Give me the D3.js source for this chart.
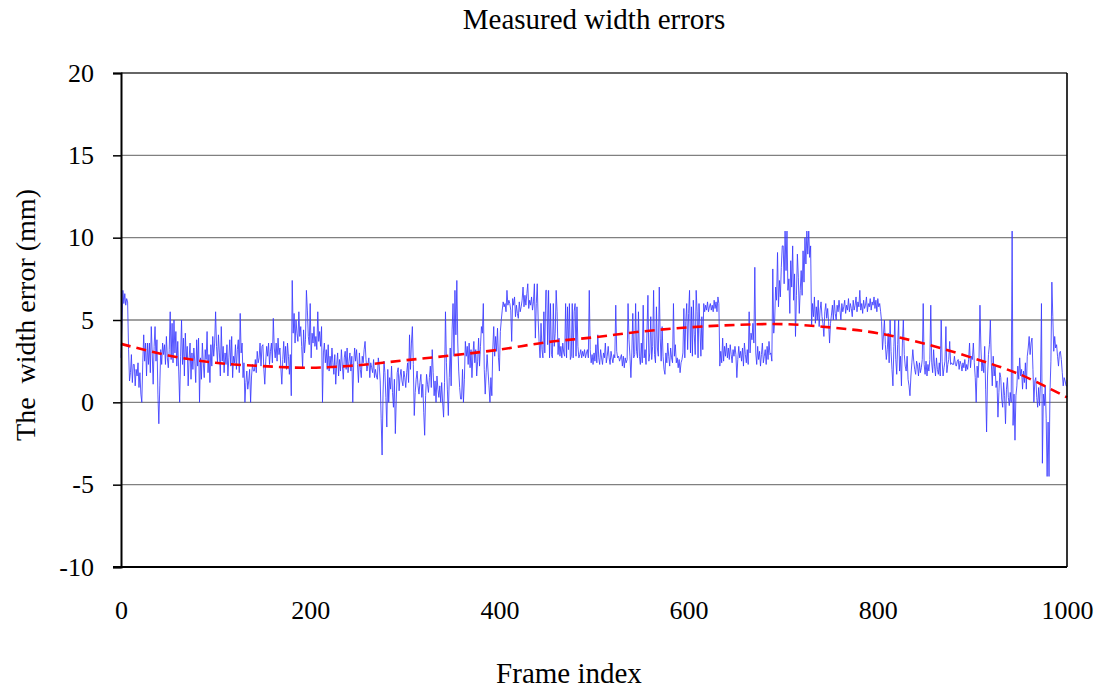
<!DOCTYPE html>
<html>
<head>
<meta charset="utf-8">
<script src="https://cdn.jsdelivr.net/npm/d3@7"></script>
<style>
  html, body { margin: 0; padding: 0; background: #fff; }
  svg text { font-family: "Liberation Serif", "Times New Roman", serif; fill: #000; }
</style>
</head>
<body>
<svg id="chart" width="1103" height="690"></svg>
<script>
// Measured width error per frame (mm), frames 0..1000
const widthError = [
  2.7,4.8,6.8,6.0,6.6,5.9,6.3,6.1,3.2,1.3, 1.8,2.9,1.2,2.3,2.3,1.0,2.0,1.6,2.4,0.9,
  1.8,0.5,0.0,2.4,4.1,2.5,3.6,1.6,3.6,2.3, 3.6,1.8,4.6,3.0,1.1,3.4,4.6,2.5,3.8,0.5,
  -1.3,1.0,3.2,2.3,3.6,2.9,3.5,2.3,4.0,2.7,
  2.1,3.2,5.5,2.6,4.8,2.4,5.0,3.0,4.3,2.2, 3.7,1.9,0.0,2.8,5.0,2.3,3.9,1.6,4.2,2.6,
  3.4,1.0,2.7,3.6,1.4,3.0,2.0,3.3,2.5,1.2, 3.8,2.2,3.9,0.0,2.7,1.4,3.6,2.4,1.5,3.2,
  2.6,4.3,1.8,2.9,1.2,3.5,2.2,4.0,2.8,3.6,
  5.5,3.4,2.4,4.1,3.0,1.6,4.6,2.5,3.4,1.8, 3.0,2.3,3.5,1.6,2.7,3.8,2.2,4.0,1.5,2.8,
  2.4,3.5,2.0,3.2,3.8,1.8,5.4,3.0,3.6,1.5, 2.4,0.0,1.2,1.9,0.8,1.3,2.0,0.0,1.6,2.3,
  1.9,1.9,2.6,1.8,3.1,2.4,2.7,3.6,2.2,3.4,
  3.5,2.0,1.1,2.5,3.4,2.8,3.6,2.3,3.1,3.6, 2.4,5.1,3.3,2.7,3.6,2.5,3.9,2.9,3.3,2.1,
  1.1,2.6,3.7,2.4,3.4,2.0,3.6,2.8,1.7,2.9, 0.4,7.4,4.2,5.4,3.6,5.0,4.2,3.7,5.5,4.0,
  4.6,3.4,2.1,4.4,3.0,3.8,6.8,5.6,4.0,3.5,
  6.0,2.7,4.2,3.6,4.6,3.4,4.0,3.2,5.5,3.7, 4.3,3.4,4.6,0.0,3.0,3.6,2.4,3.2,2.0,3.5,
  1.9,2.8,2.1,3.3,2.4,1.7,2.9,1.1,2.3,3.0, 1.6,2.6,1.9,3.2,2.2,1.4,2.7,3.1,2.0,3.3,
  1.8,2.5,3.0,1.9,2.8,0.0,2.4,3.3,2.5,3.2,
  2.3,1.2,3.0,2.0,1.5,2.8,2.4,3.2,3.7,2.6, 1.9,2.3,2.7,1.5,2.4,2.1,1.8,2.6,1.5,2.0,
  1.6,1.4,2.7,2.2,1.3,-1.0,-3.2,0.5,2.5,1.8, 0.3,-1.5,2.0,0.0,1.5,0.8,2.2,0.6,-0.3,1.4,
  -1.9,0.2,1.8,2.1,0.7,1.6,2.0,1.3,1.0,1.9,
  1.5,0.9,1.8,2.4,1.2,4.1,2.0,3.6,4.6,2.3, -0.8,0.6,1.4,1.9,1.0,0.5,1.2,1.7,0.3,1.1,
  -0.6,-2.0,0.4,1.7,1.1,0.6,1.5,2.2,0.9,3.2, 1.8,0.4,1.3,0.0,1.6,0.8,0.3,1.0,0.0,1.2,
  0.0,-0.9,1.2,5.5,2.4,0.8,-0.8,1.5,3.3,1.0,
  4.4,6.0,2.8,6.8,4.1,7.4,3.6,1.9,0.9,0.2, 0.2,2.0,0.0,1.4,3.7,2.8,3.4,2.3,3.6,2.1,
  3.2,1.5,2.9,3.7,2.4,3.2,1.6,2.5,3.9,2.2, 3.4,4.6,4.2,6.0,2.0,0.5,1.8,2.9,1.9,1.0,
  0.0,1.5,0.4,3.2,4.6,2.8,4.0,3.1,4.5,2.7,
  1.9,4.3,5.0,5.6,6.1,5.8,6.0,5.5,6.8,5.9, 6.2,6.0,5.6,3.7,6.3,5.9,6.4,5.2,5.9,5.4,
  5.1,6.1,5.5,5.8,6.2,7.0,5.8,6.5,5.9,6.6, 7.2,5.7,6.2,5.9,6.4,5.6,6.1,7.2,3.9,6.0,
  7.2,5.0,3.6,2.7,4.8,3.2,2.7,5.5,3.0,6.8,
  6.8,3.5,6.8,2.7,6.0,2.9,2.7,6.0,3.4,4.2, 6.8,5.5,2.9,3.9,2.8,3.4,2.7,3.6,3.0,2.8,
  6.0,2.7,5.8,3.2,6.0,2.6,2.8,6.0,2.7,5.5, 6.0,2.8,5.8,3.4,2.7,2.9,3.2,2.7,3.1,2.8,
  3.2,2.7,3.0,3.2,2.7,6.8,3.2,2.4,2.9,2.3,
  3.0,2.5,3.5,2.4,4.1,2.7,2.3,3.2,2.7,2.3, 3.0,2.7,3.6,2.4,2.8,3.4,2.7,2.3,3.1,2.7,
  2.4,2.9,2.7,5.9,3.1,2.7,2.8,2.5,2.7,2.9, 2.2,2.8,2.1,2.7,2.4,2.6,6.0,3.8,2.8,1.5,
  3.0,5.4,2.7,2.9,6.0,3.1,2.7,5.5,2.8,2.3,
  3.6,2.4,5.9,2.7,3.2,2.3,4.3,6.5,2.5,3.0, 5.2,2.6,3.4,6.8,2.9,2.4,5.8,3.3,2.8,7.0,
  3.9,2.5,4.6,2.8,2.0,1.7,3.0,2.4,3.6,2.8, 2.2,3.3,2.7,2.4,6.0,2.8,3.5,2.4,2.7,2.1,
  2.6,1.8,2.4,2.6,3.0,5.7,2.7,4.9,6.0,3.2,
  5.4,6.8,3.0,5.8,2.8,6.2,4.1,2.9,6.8,5.5, 2.7,6.0,4.6,2.8,5.2,3.2,6.0,5.5,5.9,5.6,
  6.1,5.5,5.8,6.0,5.6,5.9,5.5,6.2,5.7,6.1, 5.5,6.4,6.0,2.2,3.1,2.4,3.9,2.5,3.4,2.8,
  3.6,2.7,3.3,2.6,3.5,2.9,2.4,3.2,2.8,3.4,
  2.9,1.5,2.6,3.4,2.7,3.1,2.5,3.3,2.2,3.6, 2.9,2.4,3.2,2.3,5.5,3.0,4.2,3.8,4.8,3.6,
  8.2,3.0,2.3,3.4,2.6,3.1,2.2,2.9,3.6,2.4, 2.8,3.2,2.3,3.4,2.6,3.7,2.9,3.0,2.5,8.1,
  4.2,5.0,7.0,6.2,9.1,5.8,7.4,6.4,8.2,9.5,
  9.5,7.2,10.4,8.0,10.4,6.8,7.5,5.4,8.6,7.0, 9.5,6.2,7.8,4.0,6.5,9.0,7.6,5.4,6.8,8.0,
  6.5,9.2,7.3,10.0,8.4,10.4,9.0,10.4,8.8,9.5, 4.6,6.0,5.2,6.4,4.8,5.8,5.0,6.2,4.6,5.6,
  6.1,5.2,4.8,4.0,5.5,6.0,5.1,5.7,4.9,3.6,
  4.8,5.3,5.9,5.0,6.2,5.4,5.0,5.9,5.5,6.2, 5.6,5.0,6.0,5.5,5.8,6.2,5.4,5.9,5.6,6.3,
  5.5,6.0,5.7,5.2,6.2,5.6,5.9,6.4,5.5,6.1, 5.8,6.8,5.6,6.0,5.4,6.2,5.7,5.9,6.4,5.5,
  6.0,5.8,6.3,5.6,6.1,5.9,6.4,5.7,6.2,5.5,
  6.3,5.8,6.0,5.5,4.9,3.2,4.1,5.0,3.5,2.6, 3.2,4.2,2.4,5.0,3.1,2.0,1.0,3.4,5.0,2.6,
  1.7,3.5,5.0,1.9,2.8,1.0,3.6,5.0,2.9,2.2, 1.9,2.8,1.4,1.0,0.4,1.6,2.4,3.2,2.5,2.0,
  1.7,2.5,2.2,1.6,2.4,1.8,2.1,2.6,6.0,2.3,
  1.7,2.5,1.6,2.3,1.9,2.6,5.9,2.4,1.8,3.2, 2.2,1.6,2.7,2.0,1.7,2.4,1.6,5.0,2.5,1.6,
  2.1,2.5,4.6,1.8,2.3,2.6,3.7,2.3,2.4,2.3, 2.3,2.8,2.3,2.2,2.5,2.6,2.0,2.5,2.3,1.9,
  2.4,2.1,2.6,1.9,2.3,2.0,2.6,3.6,2.1,2.8,
  2.6,3.6,2.4,1.5,0.0,2.2,1.5,2.7,5.9,3.3, 1.9,2.5,1.8,3.4,0.8,-1.8,1.6,2.9,3.5,5.0,
  2.4,1.0,2.8,1.6,2.2,0.9,1.3,-0.9,0.6,1.8, 1.5,0.2,-0.3,1.2,0.4,-1.3,0.8,1.5,0.3,-0.2,
  0.6,0.0,10.4,-1.4,0.5,-2.3,0.4,1.0,2.2,1.4,
  2.7,1.6,2.0,0.8,1.9,1.2,2.4,0.8,2.8,3.3, 4.0,2.9,3.6,3.9,2.0,0.0,1.3,1.5,0.3,-0.3,
  0.9,-0.2,1.2,6.0,-3.7,0.5,-0.2,1.0,-1.0,-4.5, -1.2,-4.5,0.6,2.5,7.3,5.2,3.1,4.0,3.3,3.5,
  2.8,2.2,3.0,3.1,2.6,1.8,1.0,1.5,1.3,1.0,
  1.0
];

// Smoothed trend of the width error
const trendFrames = [0,50,100,150,200,250,300,350,400,450,500,550,600,650,700,750,800,850,900,950,1000];
const trendValues = [3.55,2.85,2.4,2.2,2.1,2.25,2.55,2.85,3.2,3.65,3.95,4.3,4.55,4.7,4.75,4.55,4.2,3.55,2.7,1.7,0.3];

const xTicks = [0,200,400,600,800,1000];
const yTicks = [-10,-5,0,5,10,15,20];

const titleText = "Measured width errors";
const xLabel = "Frame index";
const yLabel = "The  width error (mm)";

const svg = d3.select("#chart");
const plotLeft = 121, plotRight = 1067, plotTop = 73, plotBottom = 567;

const x = d3.scaleLinear().domain([0, 1000]).range([plotLeft, plotRight]);
const y = d3.scaleLinear().domain([-10, 20]).range([plotBottom, plotTop]);

// horizontal gridlines
svg.append("g")
  .selectAll("line")
  .data(yTicks.filter(v => v > -10 && v < 20))
  .join("line")
  .attr("x1", plotLeft).attr("x2", plotRight)
  .attr("y1", d => y(d)).attr("y2", d => y(d))
  .attr("stroke", "#808080")
  .attr("stroke-width", 1.4);

// measured series
const series = widthError.map((v, i) => [i * 1000 / (widthError.length - 1), v]);
svg.append("path")
  .datum(series)
  .attr("fill", "none")
  .attr("stroke", "#3a3aff")
  .attr("stroke-width", 0.85)
  .attr("stroke-linejoin", "round")
  .attr("d", d3.line().x(d => x(d[0])).y(d => y(d[1])));

// trend
svg.append("path")
  .datum(trendFrames.map((f, i) => [f, trendValues[i]]))
  .attr("fill", "none")
  .attr("stroke", "#ff0000")
  .attr("stroke-width", 2.6)
  .attr("stroke-dasharray", "10,6")
  .attr("d", d3.line().curve(d3.curveCatmullRom).x(d => x(d[0])).y(d => y(d[1])));

// plot frame
svg.append("line").attr("x1", plotLeft).attr("x2", plotRight).attr("y1", plotTop).attr("y2", plotTop)
  .attr("stroke", "#333").attr("stroke-width", 1.5);
svg.append("line").attr("x1", plotRight).attr("x2", plotRight).attr("y1", plotTop).attr("y2", plotBottom)
  .attr("stroke", "#000").attr("stroke-width", 1.6);

// y axis
const yAxis = svg.append("g")
  .attr("transform", `translate(${plotLeft},0)`)
  .call(d3.axisLeft(y).tickValues(yTicks).tickSize(8).tickPadding(19).tickFormat(d3.format("d")));
yAxis.select(".domain").attr("stroke", "#000").attr("stroke-width", 2);
yAxis.selectAll(".tick line").attr("stroke", "#000").attr("stroke-width", 1.5);
yAxis.selectAll(".tick text")
  .style("font-family", '"Liberation Serif", serif')
  .style("font-size", "26px")
  .attr("fill", "#000")
  .text(d => d < 0 ? "-" + Math.abs(d) : d);

// x axis
const xAxis = svg.append("g")
  .attr("transform", `translate(0,${plotBottom})`)
  .call(d3.axisBottom(x).tickValues(xTicks).tickSize(0).tickPadding(34).tickFormat(d3.format("d")));
xAxis.select(".domain").attr("stroke", "#000").attr("stroke-width", 2)
  .attr("d", `M${plotLeft - 8},0H${plotRight}`);
xAxis.selectAll(".tick text")
  .style("font-family", '"Liberation Serif", serif')
  .style("font-size", "26px")
  .attr("fill", "#000");

// titles
svg.append("text")
  .attr("x", (plotLeft + plotRight) / 2).attr("y", 29)
  .attr("text-anchor", "middle")
  .style("font-size", "29px")
  .text(titleText);

svg.append("text")
  .attr("x", 569).attr("y", 683)
  .attr("text-anchor", "middle")
  .style("font-size", "29px")
  .text(xLabel);

svg.append("text")
  .attr("transform", "translate(35,315) rotate(-90)")
  .attr("text-anchor", "middle")
  .style("font-size", "28px")
  .style("white-space", "pre")
  .text(yLabel);
</script>
</body>
</html>
